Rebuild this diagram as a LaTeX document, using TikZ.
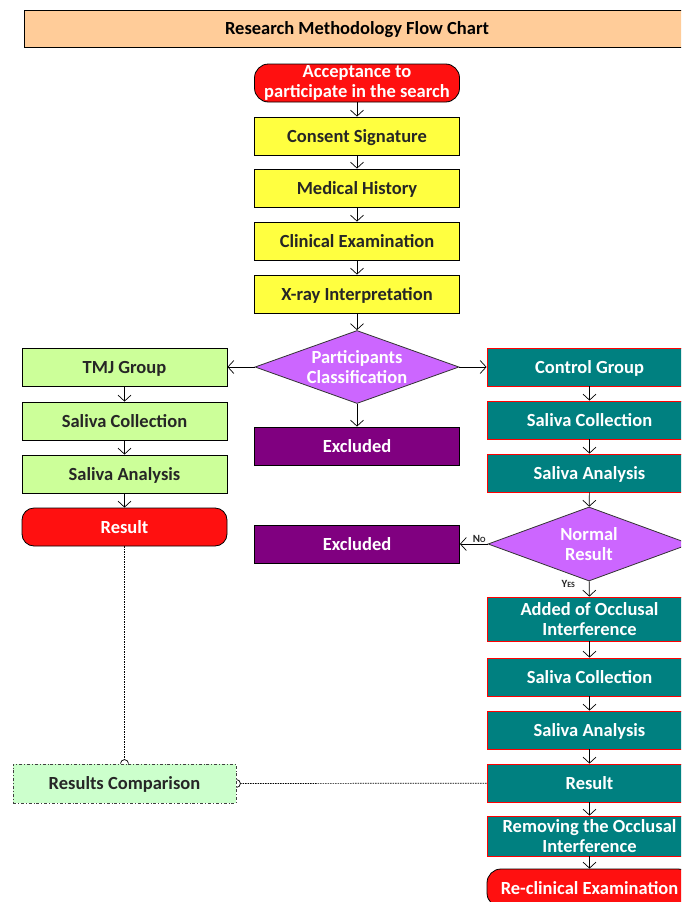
\documentclass[tikz,border=0pt]{standalone}
\usepackage{fontspec}
\setmainfont{Carlito}
\usetikzlibrary{shapes.geometric,arrows.meta}
\definecolor{peach}{HTML}{FFCC99}
\definecolor{yel}{HTML}{FFFF40}
\definecolor{lime}{HTML}{CCFF99}
\definecolor{mint}{HTML}{CCFFCC}
\definecolor{tealbox}{HTML}{008080}
\definecolor{plum}{HTML}{800080}
\definecolor{violet}{HTML}{CC66FF}
\definecolor{redbox}{HTML}{FF1010}
\definecolor{ink}{HTML}{262626}
\newcommand{\smallcapsish}[2]{{\fontsize{11}{11}\selectfont #1}{\fontsize{8}{11}\selectfont #2}}
\begin{document}
\begin{tikzpicture}[x=1pt,y=-1pt,
    every node/.style={font=\fontsize{18.5}{19.5}\selectfont\bfseries, align=center, inner sep=0pt, line width=0.8pt},
    oneline/.style={text height=14pt, text depth=2pt},
    stepyel/.style={oneline, draw=black, fill=yel, text=ink, minimum width=205pt, minimum height=38pt},
    steptmj/.style={oneline, draw=black, fill=lime, text=ink, minimum width=205pt, minimum height=38pt},
    stepctl/.style={oneline, draw=red, fill=tealbox, text=white, minimum width=205pt, minimum height=38pt},
    stepexc/.style={oneline, draw=black, fill=plum, text=white, minimum width=205pt, minimum height=38pt},
    terminal/.style={oneline, draw=black, fill=redbox, text=white, rounded corners=14pt, minimum width=205pt, minimum height=38pt},
    twoline/.style={text height=, text depth=},
    decide/.style={diamond, draw=black!80, fill=violet, text=white, aspect=2.8, minimum width=204pt, minimum height=73pt},
    arr/.style={-{Straight Barb[length=6pt,width=13pt]}, line width=0.7pt},
    link/.style={dash pattern=on 1.4pt off 1.1pt, line width=0.7pt}]
    \useasboundingbox (0,0) rectangle (681,902);
    \clip (0,0) rectangle (681,902);
    \node[oneline, draw=black, fill=peach, minimum width=666pt, minimum height=37pt] (title) at (357,28.5) {Research Methodology Flow Chart};
    \node[terminal, twoline] (accept) at (357,83) {Acceptance to\\participate in the search};
    \node[stepyel] (consent) at (357,136) {Consent Signature};
    \node[stepyel] (history) at (357,188) {Medical History};
    \node[stepyel] (clinic) at (357,241) {Clinical Examination};
    \node[stepyel] (xray) at (357,294) {X-ray Interpretation};
    \node[decide] (classify) at (357,367) {Participants\\Classification};
    \node[stepexc] (excla) at (357,446) {Excluded};
    \node[steptmj] (tmj) at (124.5,367) {TMJ Group};
    \node[steptmj] (tmjcoll) at (124.5,421) {Saliva Collection};
    \node[steptmj] (tmjanal) at (124.5,474) {Saliva Analysis};
    \node[terminal, rounded corners=12pt] (tmjres) at (124.5,527) {Result};
    \node[stepctl] (ctrl) at (589.5,367) {Control Group};
    \node[stepctl] (ctrlcoll) at (589.5,420) {Saliva Collection};
    \node[stepctl] (ctrlanal) at (589.5,473) {Saliva Analysis};
    \node[decide, minimum width=202pt, minimum height=74pt] (normal) at (589,544) {Normal\\Result};
    \node[stepexc] (exclb) at (357,544) {Excluded};
    \node[stepctl, twoline, minimum height=44pt] (added) at (589.5,619) {Added of Occlusal\\Interference};
    \node[stepctl] (occcoll) at (589.5,677) {Saliva Collection};
    \node[stepctl] (occanal) at (589.5,730) {Saliva Analysis};
    \node[stepctl] (occres) at (589.5,783) {Result};
    \node[stepctl, twoline, minimum height=40pt] (remove) at (589.5,836) {Removing the Occlusal\\Interference};
    \node[terminal] (reclin) at (589.5,888) {Re-clinical Examination};
    \node[oneline, draw=black!75, dash dot, fill=mint, text=ink, minimum width=223pt, minimum height=39pt] (compare) at (124.5,783.5) {Results Comparison};
    \draw[arr] (accept) -- (consent);
    \draw[arr] (consent) -- (history);
    \draw[arr] (history) -- (clinic);
    \draw[arr] (clinic) -- (xray);
    \draw[arr] (xray) -- (classify);
    \draw[arr] (classify) -- (tmj);
    \draw[arr] (classify) -- (ctrl);
    \draw[arr] (classify) -- (excla);
    \draw[arr] (tmj) -- (tmjcoll);
    \draw[arr] (tmjcoll) -- (tmjanal);
    \draw[arr] (tmjanal) -- (tmjres);
    \draw[arr] (ctrl) -- (ctrlcoll);
    \draw[arr] (ctrlcoll) -- (ctrlanal);
    \draw[arr] (ctrlanal) -- (normal);
    \draw[arr] (normal) -- node[above=1.5pt, pos=0.3, font=\bfseries, text=ink] {\smallcapsish{N}{O}} (exclb);
    \draw[arr] (normal) -- node[left=14pt, pos=0.2, font=\bfseries, text=ink] {\smallcapsish{Y}{ES}} (added);
    \draw[arr] (added) -- (occcoll);
    \draw[arr] (occcoll) -- (occanal);
    \draw[arr] (occanal) -- (occres);
    \draw[arr] (occres) -- (remove);
    \draw[arr] (remove) -- (reclin);
    \draw[link] (tmjres) -- ([yshift=4pt]compare.north);
    \draw[line width=0.7pt] ([xshift=-4pt]compare.north) arc[start angle=180, end angle=0, radius=4pt];
    \draw[link] (occres) -- ([xshift=4pt]compare.east);
    \draw[line width=0.7pt] ([yshift=4pt]compare.east) arc[start angle=90, end angle=-90, radius=4pt];
\end{tikzpicture}
\end{document}
